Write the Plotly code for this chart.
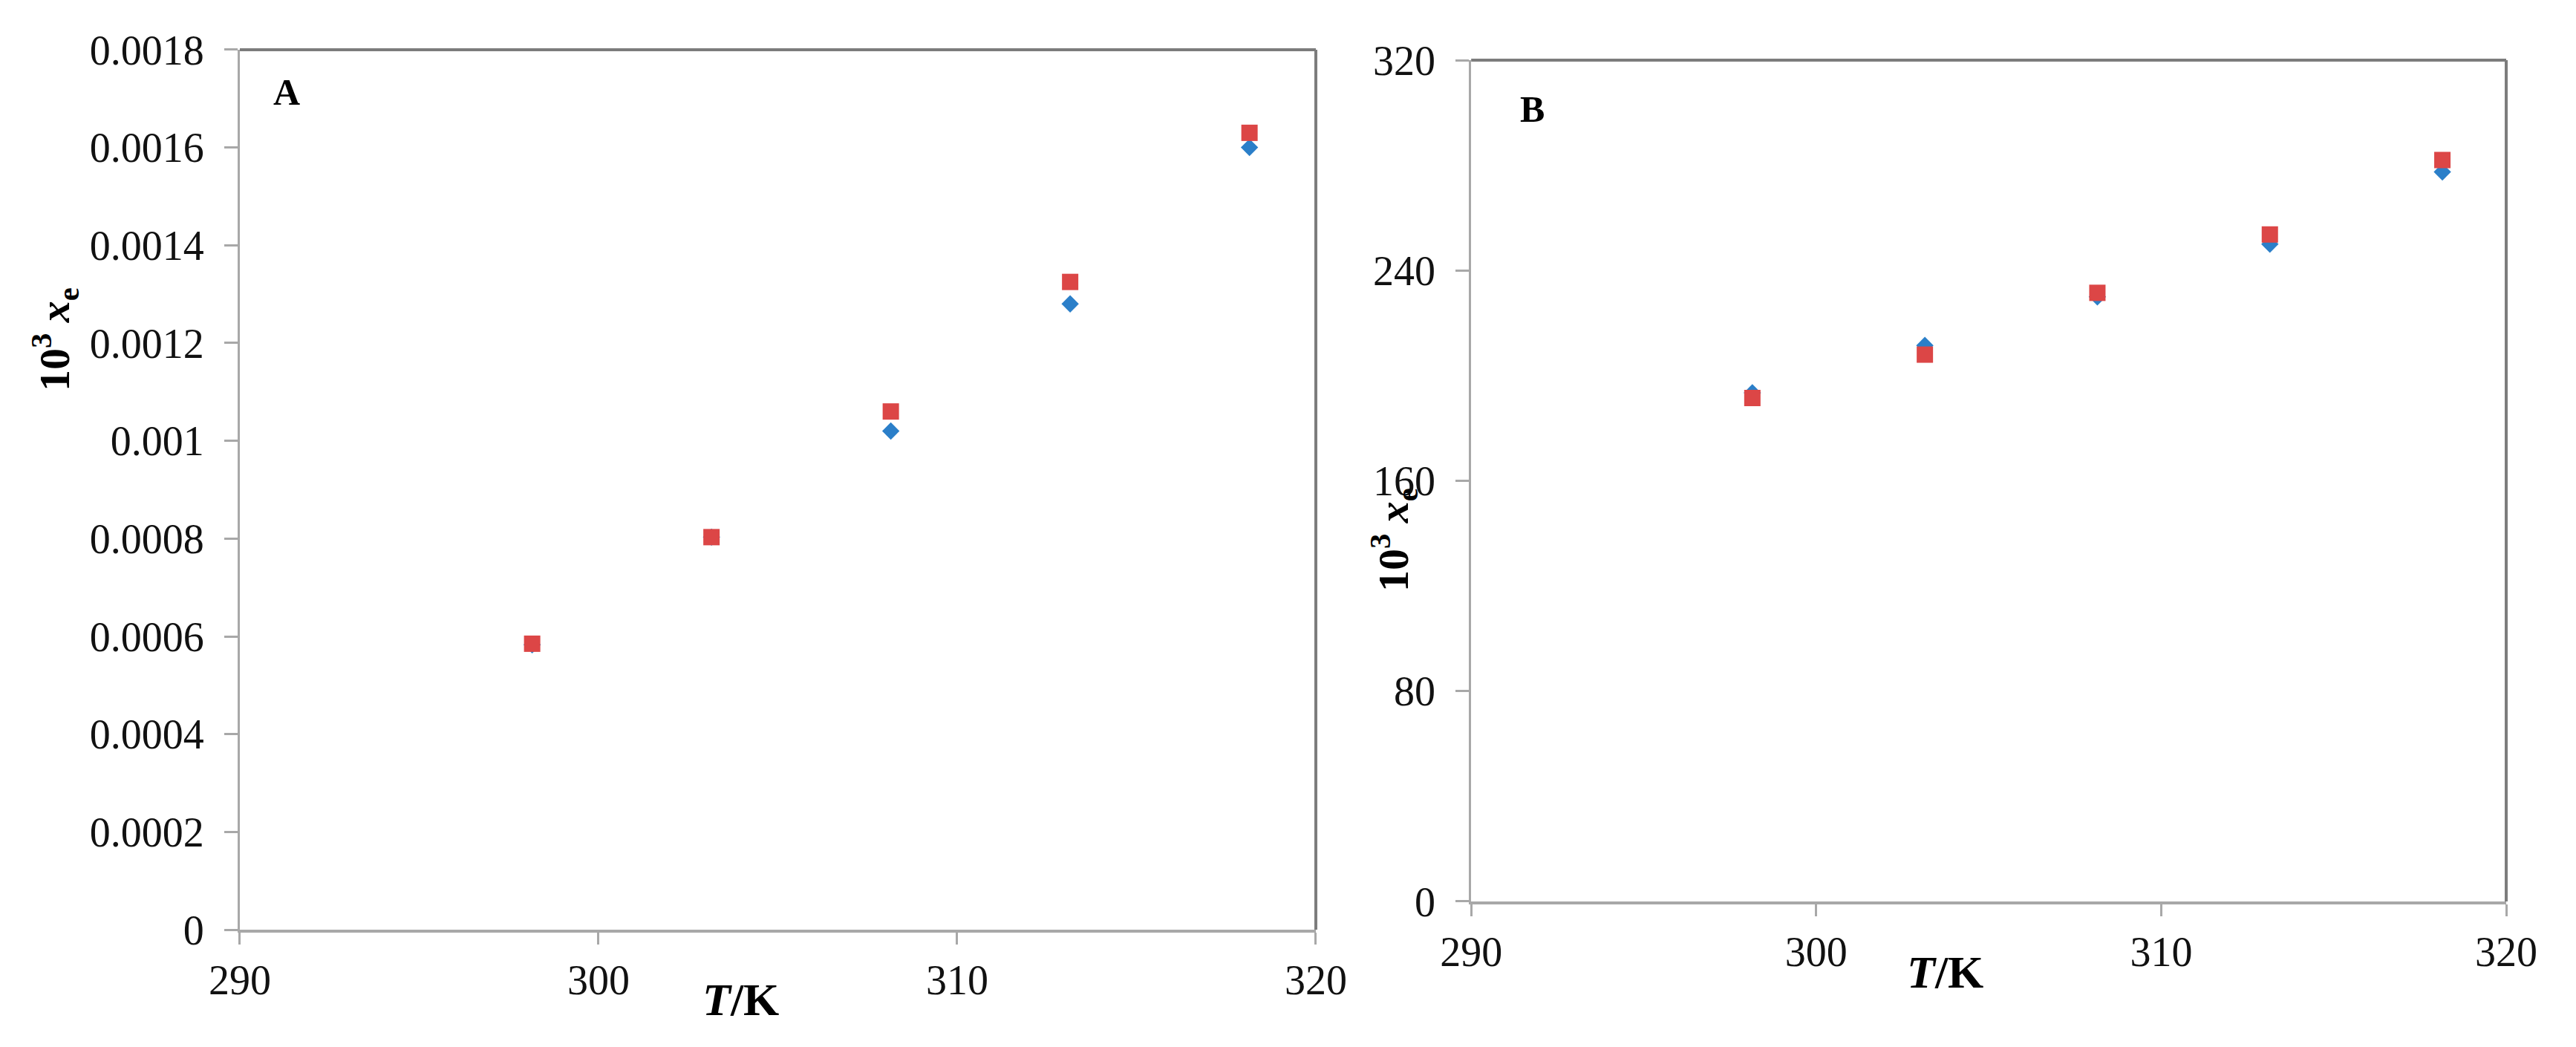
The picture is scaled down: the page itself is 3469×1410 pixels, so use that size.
import plotly.graph_objects as go

# temperatures (K)
temps = [298.15, 303.15, 308.15, 313.15, 318.15]

# panel A: mole fraction solubility
a_exp = [0.000583, 0.000803, 0.00102, 0.00128, 0.00160]
a_calc = [0.000585, 0.000803, 0.00106, 0.001325, 0.00163]

# panel B
b_exp = [193.5, 211.5, 230.0, 250.0, 277.5]
b_calc = [191.5, 208.0, 231.5, 253.7, 282.0]

x_ticks = [290, 300, 310, 320]
a_yticks = [0, 0.0002, 0.0004, 0.0006, 0.0008, 0.001, 0.0012, 0.0014, 0.0016, 0.0018]
a_ytext = ["0", "0.0002", "0.0004", "0.0006", "0.0008", "0.001", "0.0012", "0.0014", "0.0016", "0.0018"]
b_yticks = [0, 80, 160, 240, 320]

BLUE = "#2b7fc9"
RED = "#dc4646"
FONT = "Liberation Serif"
AXC = "#a8a8a8"
BORDER = "#7c7c7c"
W, H = 3469, 1410

fig = go.Figure()

fig.add_trace(go.Scatter(x=temps, y=a_exp, mode="markers", xaxis="x", yaxis="y",
                         marker=dict(symbol="diamond", size=18, color=BLUE)))
fig.add_trace(go.Scatter(x=temps, y=a_calc, mode="markers", xaxis="x", yaxis="y",
                         marker=dict(symbol="square", size=22, color=RED)))
fig.add_trace(go.Scatter(x=temps, y=b_exp, mode="markers", xaxis="x2", yaxis="y2",
                         marker=dict(symbol="diamond", size=18, color=BLUE)))
fig.add_trace(go.Scatter(x=temps, y=b_calc, mode="markers", xaxis="x2", yaxis="y2",
                         marker=dict(symbol="square", size=22, color=RED)))

tickfont = dict(family=FONT, size=56, color="#111111")

def xax(domain, anchor):
    return dict(domain=domain, anchor=anchor, range=[290, 320], tickvals=x_ticks,
                showgrid=False, zeroline=False, showline=True, linecolor=AXC, linewidth=4,
                ticks="outside", ticklen=16, tickwidth=3, tickcolor=AXC, automargin=False,
                ticklabelstandoff=0, tickfont=tickfont)

def yax(domain, anchor, rng, vals, text=None):
    d = dict(domain=domain, anchor=anchor, range=rng, tickvals=vals,
             showgrid=False, zeroline=False, showline=True, linecolor=AXC, linewidth=3,
             ticks="outside", ticklen=18, tickwidth=3, tickcolor=AXC, automargin=False,
             ticklabelstandoff=16, tickfont=tickfont)
    if text:
        d["ticktext"] = text
    return d

def note(text, px, py, size, angle=0):
    return dict(text=text, x=px / W, y=1 - py / H, xref="paper", yref="paper",
                xanchor="center", yanchor="middle", textangle=angle, showarrow=False,
                font=dict(family=FONT, size=size, color="black"))

ytitle = "<b>10<sup>3</sup> <i>x</i><sub>e</sub></b>"
xtitle = "<b><i>T</i>/K</b>"

fig.update_layout(
    width=W, height=H,
    margin=dict(l=0, r=0, t=0, b=0),
    paper_bgcolor="white", plot_bgcolor="white",
    showlegend=False,
    xaxis=xax([0.0908, 0.5085], "y"),
    yaxis=yax([0.1177, 0.9582], "x", [0, 0.0018], a_yticks, a_ytext),
    xaxis2=xax([0.5688, 0.9706], "y2"),
    yaxis2=yax([0.1447, 0.9482], "x2", [0, 320], b_yticks),
    shapes=[
        dict(type="line", xref="x domain", yref="y domain", x0=0, x1=1, y0=1, y1=1,
             line=dict(color=BORDER, width=4)),
        dict(type="line", xref="x domain", yref="y domain", x0=1, x1=1, y0=0, y1=1,
             line=dict(color=BORDER, width=4)),
        dict(type="line", xref="x2 domain", yref="y2 domain", x0=0, x1=1, y0=1, y1=1,
             line=dict(color=BORDER, width=4)),
        dict(type="line", xref="x2 domain", yref="y2 domain", x0=1, x1=1, y0=0, y1=1,
             line=dict(color=BORDER, width=4)),
    ],
    annotations=[
        note("<b>A</b>", 378, 116, 50),
        note("<b>B</b>", 2055, 139, 50),
        note(ytitle, 66, 449, 58, -90),
        note(ytitle, 1869, 719, 58, -90),
        note(xtitle, 989, 1338, 62),
        note(xtitle, 2611, 1301, 62),
    ],
)

fig.write_html("out.html")
